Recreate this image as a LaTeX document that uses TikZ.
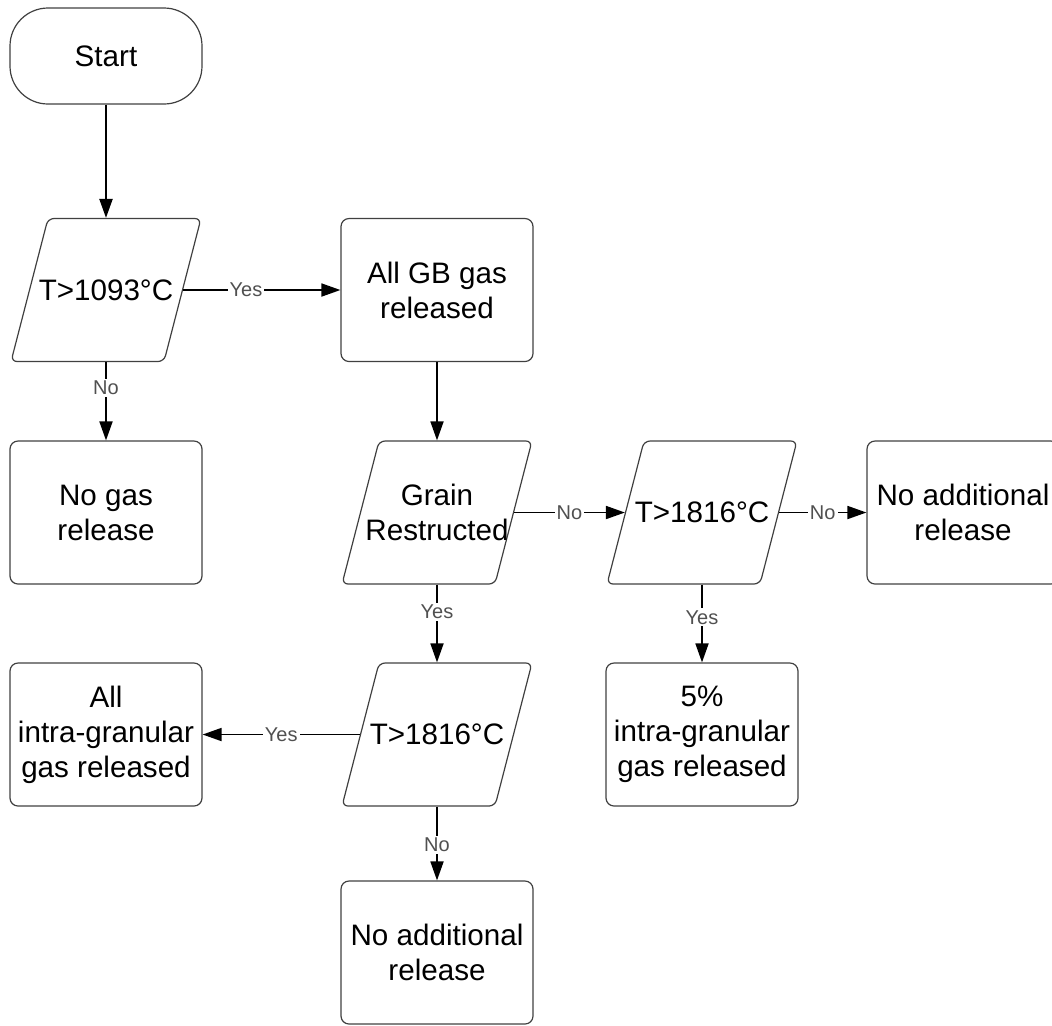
\documentclass[tikz,border=0pt]{standalone}
\usepackage{fontspec}
\setmainfont{Liberation Sans}
\usetikzlibrary{positioning, arrows.meta, shapes.geometric}
\definecolor{edgegray}{HTML}{404040}
\definecolor{labelgray}{HTML}{505050}

\begin{document}
\begin{tikzpicture}[
    block/.style={rectangle, draw=edgegray, line width=0.6pt, rounded corners=4pt,
                  minimum width=96pt, minimum height=71.5pt, align=center,
                  font=\fontsize{14.8}{17.5}\selectfont},
    terminal/.style={block, minimum height=48pt, rounded corners=19pt},
    dtext/.style={align=center, font=\fontsize{14.8}{17.5}\selectfont},
    decision/.style={trapezium, trapezium left angle=75.5, trapezium right angle=104.5,
                  draw=edgegray, line width=0.6pt, rounded corners=3pt,
                  inner xsep=29pt, inner ysep=35.75pt, label={[dtext]center:#1}},
    arr/.style={-{Triangle[length=9.5pt, width=6.5pt]}, line width=0.9pt, black},
    lbl/.style={fill=white, inner sep=1pt, text=labelgray,
                font=\fontsize{10}{12}\selectfont},
    on grid
]
    \useasboundingbox (0,0) rectangle (526pt,-512.5pt);

    \node[terminal] (start) at (53pt,-28pt) {Start};
    \node[decision={T>1093°C}, below=117pt of start] (t1) {};
    \node[block, below=111.25pt of t1] (nogas) {No gas\\release};
    \node[block, right=165.5pt of t1] (gb) {All GB gas\\released};
    \node[decision={Grain\\Restructed}, below=111.25pt of gb] (grain) {};
    \node[decision={T>1816°C}, right=132.5pt of grain] (t2) {};
    \node[block, right=130.5pt of t2] (noadd) {No additional\\release};
    \node[block, below=111pt of t2] (five) {5\%\\intra-granular\\gas released};
    \node[decision={T>1816°C}, below=111pt of grain] (t3) {};
    \node[block, left=165.5pt of t3] (allgas) {All\\intra-granular\\gas released};
    \node[block, below=109pt of t3] (noadd2) {No additional\\release};

    \draw[arr, line width=1.1pt] (start) -- (t1);
    \draw[arr] (t1) -- node[lbl, pos=0.4] {Yes} (gb);
    \draw[arr] (t1) -- node[lbl, pos=0.33] {No} (nogas);
    \draw[arr] (gb) -- (grain);

    % Grain branch
    \draw[arr] (grain) -- node[lbl] {No} (t2);
    \draw[arr] (t2) -- node[lbl] {No} (noadd);
    \draw[arr] (t2) -- node[lbl, pos=0.42] {Yes} (five);
    \draw[arr] (grain) -- node[lbl, pos=0.35] {Yes} (t3);
    \draw[arr] (t3) -- node[lbl] {Yes} (allgas);
    \draw[arr] (t3) -- node[lbl, pos=0.52] {No} (noadd2);
\end{tikzpicture}
\end{document}
